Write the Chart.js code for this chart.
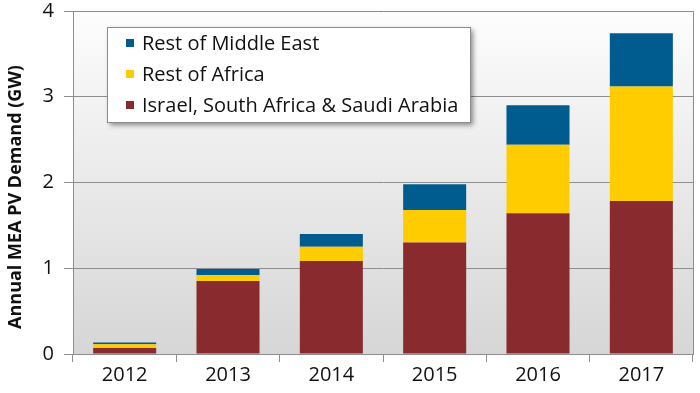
<!DOCTYPE html>
<html>
<head>
<meta charset="utf-8">
<script src="https://cdn.jsdelivr.net/npm/chart.js@4/dist/chart.umd.min.js"></script>
<style>
html,body{margin:0;padding:0;background:#fff;}
#wrap{width:700px;height:393px;position:relative;}
</style>
</head>
<body>
<div id="wrap"><canvas id="c" width="700" height="393"></canvas></div>
<script>
const categories = ['2012', '2013', '2014', '2015', '2016', '2017'];
const israelSaSaudi = [0.07, 0.85, 1.085, 1.30, 1.64, 1.785];
const restOfAfrica = [0.045, 0.07, 0.165, 0.38, 0.80, 1.335];
const restOfMiddleEast = [0.02, 0.07, 0.15, 0.30, 0.46, 0.62];
const yTicks = [0, 1, 2, 3, 4];
const yTitle = 'Annual MEA PV Demand (GW)';

const FONT = "'Open Sans', 'Noto Sans', sans-serif";
const GRID = '#8e8e8e';

const bgPlugin = {
  id: 'bg',
  beforeDraw(chart) {
    const {ctx, chartArea: a} = chart;
    ctx.save();
    const g = ctx.createLinearGradient(0, a.top, 0, a.bottom);
    g.addColorStop(0, '#fdfdfd');
    g.addColorStop(1, '#d6d6d6');
    ctx.fillStyle = g;
    ctx.fillRect(a.left, a.top, a.right - a.left, a.bottom - a.top);
    ctx.restore();
  },
  afterDatasetsDraw(chart) {
    const {ctx, chartArea: a} = chart;
    ctx.save();
    ctx.strokeStyle = GRID;
    ctx.lineWidth = 1;
    ctx.beginPath();
    ctx.moveTo(Math.round(a.right) + 0.5, a.top);
    ctx.lineTo(Math.round(a.right) + 0.5, a.bottom + 1);
    ctx.stroke();
    // y-axis title
    ctx.translate(16, 197);
    ctx.rotate(-Math.PI / 2);
    ctx.font = 'bold 18px ' + FONT;
    ctx.fillStyle = '#111';
    ctx.textAlign = 'center';
    ctx.textBaseline = 'middle';
    ctx.fillText(yTitle, 0, 0);
    ctx.restore();
  }
};

const legendPlugin = {
  id: 'boxLegend',
  afterDraw(chart) {
    const {ctx} = chart;
    const x = 107, y = 27, w = 363, h = 95;
    ctx.save();
    ctx.shadowColor = 'rgba(0,0,0,0.45)';
    ctx.shadowBlur = 5;
    ctx.shadowOffsetX = 3;
    ctx.shadowOffsetY = 3;
    ctx.fillStyle = '#ffffff';
    ctx.fillRect(x, y, w, h);
    ctx.shadowColor = 'transparent';
    ctx.strokeStyle = '#8c8c8c';
    ctx.lineWidth = 1;
    ctx.strokeRect(x + 0.5, y + 0.5, w, h);
    const ds = chart.data.datasets.slice().reverse();
    ctx.font = '20px ' + FONT;
    ctx.textBaseline = 'middle';
    ds.forEach((d, i) => {
      const cy = 43 + i * 31;
      ctx.fillStyle = d.backgroundColor;
      ctx.fillRect(126, cy - 4, 8, 8);
      ctx.fillStyle = '#111';
      ctx.fillText(d.label, 142, cy + 1);
    });
    ctx.restore();
  }
};

new Chart(document.getElementById('c'), {
  type: 'bar',
  data: {
    labels: categories,
    datasets: [
      {label: 'Israel, South Africa & Saudi Arabia', data: israelSaSaudi, backgroundColor: '#892b2e'},
      {label: 'Rest of Africa', data: restOfAfrica, backgroundColor: '#ffcc00'},
      {label: 'Rest of Middle East', data: restOfMiddleEast, backgroundColor: '#005b8e'}
    ]
  },
  options: {
    responsive: false,
    animation: false,
    devicePixelRatio: 1,
    layout: {padding: {top: 11, right: 7, left: 0, bottom: 0}},
    datasets: {bar: {barPercentage: 0.61, categoryPercentage: 1.0, borderWidth: 0}},
    plugins: {legend: {display: false}, tooltip: {enabled: false}},
    scales: {
      x: {
        stacked: true,
        offset: true,
        grid: {offset: true, drawOnChartArea: false, color: GRID, tickLength: 8, tickColor: GRID},
        border: {color: GRID},
        ticks: {color: '#111', font: {family: FONT, size: 20}, padding: 1},
        afterFit(s) { s.height = 39; s.paddingLeft = 0; s.paddingRight = 0; }
      },
      y: {
        stacked: true,
        min: 0,
        max: 4,
        afterBuildTicks(s) { s.ticks = yTicks.map(v => ({value: v})); },
        grid: {color: GRID, tickLength: 9, tickColor: GRID},
        border: {color: GRID},
        ticks: {color: '#111', font: {family: FONT, size: 20}, padding: 10},
        title: {display: false},
        afterFit(s) { s.width = 73; s.paddingTop = 0; s.paddingBottom = 0; }
      }
    }
  },
  plugins: [bgPlugin, legendPlugin]
});
</script>
</body>
</html>
